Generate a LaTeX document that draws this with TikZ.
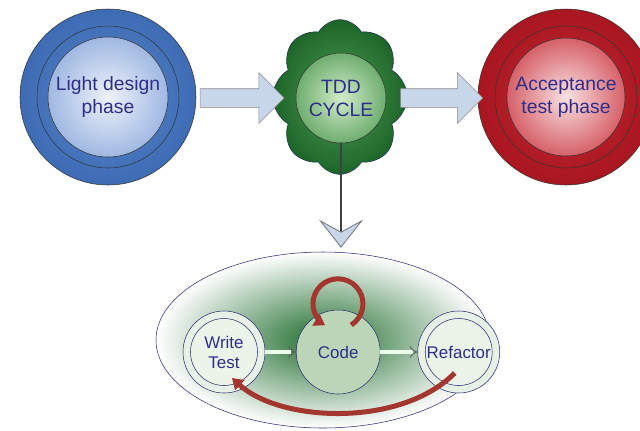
\documentclass[tikz,border=0pt]{standalone}
\usepackage{fontspec}
\setmainfont{Liberation Sans}
\usetikzlibrary{positioning, shapes.symbols, shapes.arrows, shapes.geometric, arrows.meta}
\definecolor{txtblue}{HTML}{2E2E8A}
\definecolor{lineblue}{HTML}{2A2A78}
\definecolor{arrowfill}{HTML}{C8D6EA}
\definecolor{tddred}{HTML}{A3362F}
\tikzset{
	phase/.style = {
		circle,
		draw = black!80,
		minimum size = 132pt,
		inner sep = 0pt
	},
	phasein/.style = {
		circle,
		draw = black!80,
		minimum size = 90pt,
		inner sep = 0pt,
		align = center,
		text = txtblue,
		font = \fontsize{14.5}{17.25}\selectfont
	},
	ring/.style = {
		draw = black!80
	},
	blockarrow/.style = {
		single arrow,
		draw = black!45,
		fill = arrowfill,
		inner xsep = 0pt,
		inner ysep = 6.75pt,
		single arrow head extend = 12pt,
		minimum height = 63pt
	},
	stage/.style = {
		circle,
		draw = lineblue,
		minimum size = 61.5pt,
		inner sep = 0pt,
		align = center,
		text = txtblue,
		font = \fontsize{12.7}{15}\selectfont
	},
	dbl/.style = {
		draw = black!65,
		double = green!8,
		double distance = 2.4pt,
		line width = 0.6pt,
		-{Implies}
	},
	redarrow/.style = {
		draw = tddred,
		line width = 3.75pt,
		-{Triangle[length = 8pt, width = 10pt]}
	}
}

\begin{document}
\begin{tikzpicture}[x = 0.75pt, y = -0.75pt]
	\useasboundingbox (0,0) rectangle (640,430);

	% bottom loop
	\node[ellipse, draw = lineblue, inner color = {rgb,255:red,30;green,108;blue,44}, outer color = white,
		minimum width = 250.5pt, minimum height = 132pt] (E) at (323,340) {};

	% phases
	\node[phase, inner color = {rgb,255:red,91;green,135;blue,201}, outer color = {rgb,255:red,61;green,108;blue,181}] (LD) at (108,97) {};
	\draw[ring] (LD.center) circle[radius = 53.25pt];
	\node[phasein, inner color = {rgb,255:red,238;green,242;blue,250}, outer color = {rgb,255:red,160;green,184;blue,226}] (LDi) at (LD) {Light design\\phase};

	\node[phase, inner color = {rgb,255:red,197;green,42;blue,53}, outer color = {rgb,255:red,168;green,22;blue,31}] (AT) at (566,97) {};
	\draw[ring] (AT.center) circle[radius = 53.25pt];
	\node[phasein, minimum size = 88.5pt, inner color = {rgb,255:red,248;green,225;blue,227}, outer color = {rgb,255:red,214;green,96;blue,104}] (ATi) at (AT) {Acceptance\\test phase};

	\node[cloud, cloud puffs = 8, cloud puff arc = 120, draw = {rgb,255:red,30;green,45;blue,80},
		inner color = {rgb,255:red,78;green,158;blue,85}, outer color = {rgb,255:red,28;green,101;blue,40},
		minimum width = 101pt, minimum height = 116pt] (TDD) at (340,97) {};
	\node[phasein, minimum size = 67.5pt, inner color = {rgb,255:red,208;green,235;blue,201}, outer color = {rgb,255:red,111;green,174;blue,111}] (TDDi) at (341,98) {TDD\\CYCLE};

	\node[blockarrow] (A1) at (237.5,98) {};
	\node[blockarrow, minimum height = 61.5pt] (A2) at (437,98) {};

	\draw[draw = black!75, line width = 1pt, shorten > = 3pt,
		-{Stealth[length = 21pt, width = 33pt, inset = 9pt, line width = 0.6pt, color = black!55, fill = arrowfill]}]
		(TDDi.south) -- (TDDi.south |- E.north);

	% steps
	\node[stage, fill = {rgb,255:red,232;green,241;blue,230}] (WT) at (224,352) {};
	\node[stage, minimum size = 50.25pt, fill = {rgb,255:red,236;green,244;blue,234}] (WTi) at (WT) {Write\\Test};
	\node[stage, minimum size = 63pt, fill = {rgb,255:red,186;green,214;blue,182}, right = 23pt of WT] (C) {Code};
	\node[stage, fill = {rgb,255:red,232;green,241;blue,230}, right = 27.75pt of C] (R) {};
	\node[stage, minimum size = 50.25pt, fill = {rgb,255:red,236;green,244;blue,234}] (Ri) at (R) {};
	\node[text = txtblue, font = \fontsize{12.7}{15}\selectfont] (Rt) at (R) {Refactor};

	\draw[dbl] (WT) -- (C);
	\draw[dbl] (C) -- (R);

	\draw[redarrow] ([shift = {(9.75pt,20.25pt)}]C.center) arc[start angle = -58, end angle = 239, radius = 18.75pt];
	\draw[redarrow] ([shift = {(-3pt,-15.75pt)}]R.center) .. controls (400,428) and (280,422) .. ([shift = {(6pt,-19.5pt)}]WT.center);

\end{tikzpicture}
\end{document}
